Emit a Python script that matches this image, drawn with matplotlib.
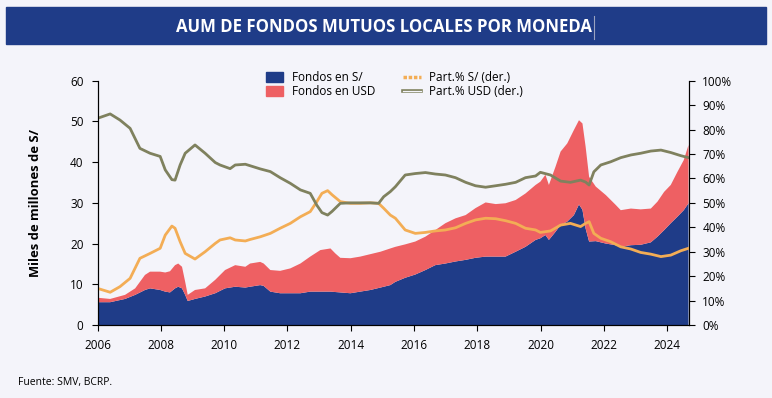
import matplotlib.pyplot as plt
from matplotlib.lines import Line2D
from matplotlib.patches import Patch, Rectangle
from matplotlib.ticker import FuncFormatter

# stacked areas (miles de millones de S/)
area_years = [2006.0, 2006.4, 2006.87, 2007.19, 2007.5, 2007.66, 2007.98, 2008.14, 2008.29, 2008.45,
              2008.55, 2008.67, 2008.77, 2008.85, 2009.08, 2009.4, 2009.72, 2010.03, 2010.35, 2010.67,
              2010.82, 2011.14, 2011.25, 2011.46, 2011.77, 2012.09, 2012.41, 2012.72, 2013.04, 2013.36,
              2013.51, 2013.67, 2013.99, 2014.3, 2014.62, 2014.94, 2015.25, 2015.41, 2015.72, 2016.04,
              2016.36, 2016.67, 2016.99, 2017.31, 2017.63, 2017.94, 2018.26, 2018.58, 2018.89, 2019.21,
              2019.52, 2019.84, 2019.99, 2020.15, 2020.26, 2020.47, 2020.63, 2020.84, 2021.05, 2021.21,
              2021.32, 2021.42, 2021.53, 2021.74, 2022.06, 2022.37, 2022.53, 2022.85, 2023.16, 2023.48,
              2023.69, 2023.9, 2024.11, 2024.32, 2024.52, 2024.67]
fondos_sol = [5.6, 5.6, 6.4, 7.4, 8.6, 9.0, 8.6, 8.2, 8.0, 9.0,
              9.4, 9.0, 7.4, 5.9, 6.4, 7.0, 7.8, 9.0, 9.4, 9.2,
              9.4, 9.8, 9.6, 8.2, 7.8, 7.8, 7.8, 8.2, 8.2, 8.2,
              8.1, 8.0, 7.8, 8.2, 8.6, 9.2, 9.8, 10.6, 11.6, 12.4,
              13.5, 14.7, 15.1, 15.6, 16.0, 16.5, 16.8, 16.8, 16.8, 18.0,
              19.2, 20.9, 21.3, 22.1, 20.9, 22.9, 24.6, 25.4, 27.0, 29.6,
              28.3, 23.7, 20.5, 20.6, 20.0, 19.6, 19.2, 19.6, 19.7, 20.3,
              21.7, 23.3, 25.0, 26.6, 28.2, 29.9]
fondos_usd = [1.1, 0.8, 1.0, 1.6, 3.7, 4.1, 4.5, 4.7, 5.2, 5.7,
              5.7, 5.3, 3.2, 1.5, 2.2, 2.0, 3.3, 4.5, 5.3, 5.1,
              5.7, 5.7, 5.5, 5.3, 5.5, 6.1, 7.3, 8.6, 10.2, 10.6,
              9.5, 8.5, 8.6, 8.6, 8.8, 8.8, 9.0, 8.6, 8.2, 8.1,
              8.2, 8.6, 9.9, 10.6, 11.0, 12.2, 13.3, 12.9, 13.1, 12.7,
              13.1, 13.5, 13.9, 14.8, 13.5, 16.0, 18.0, 19.2, 20.9, 20.7,
              21.2, 20.1, 15.9, 13.4, 11.9, 9.9, 9.0, 9.0, 8.7, 8.3,
              8.6, 9.4, 9.4, 11.0, 12.3, 14.3]

# participaciones (eje derecho, %)
line_years = [2006.0, 2006.4, 2006.71, 2007.03, 2007.34, 2007.66, 2007.98, 2008.14, 2008.35, 2008.45,
              2008.61, 2008.77, 2009.08, 2009.4, 2009.72, 2009.87, 2010.19, 2010.35, 2010.67, 2010.82,
              2011.14, 2011.46, 2011.77, 2012.09, 2012.41, 2012.72, 2012.93, 2013.09, 2013.27, 2013.41,
              2013.67, 2013.99, 2014.3, 2014.62, 2014.88, 2015.04, 2015.25, 2015.41, 2015.72, 2016.04,
              2016.36, 2016.67, 2016.99, 2017.31, 2017.63, 2017.94, 2018.26, 2018.58, 2018.89, 2019.21,
              2019.52, 2019.84, 2019.99, 2020.31, 2020.63, 2020.94, 2021.26, 2021.42, 2021.53, 2021.68,
              2021.9, 2022.21, 2022.53, 2022.85, 2023.16, 2023.48, 2023.8, 2024.11, 2024.43, 2024.67]
part_sol = [15.0, 13.4, 15.7, 19.1, 27.3, 29.3, 31.4, 36.8, 40.5, 39.6,
            34.1, 29.3, 27.0, 30.0, 33.4, 34.8, 35.7, 34.8, 34.4, 35.0,
            36.1, 37.5, 39.6, 41.6, 44.3, 46.4, 50.5, 53.9, 55.0, 53.3,
            50.5, 49.8, 49.8, 50.0, 49.8, 47.8, 45.0, 43.7, 38.9, 37.5,
            37.9, 38.5, 38.9, 39.8, 41.6, 43.0, 43.7, 43.5, 42.7, 41.6,
            39.6, 38.9, 37.9, 38.5, 40.9, 41.6, 40.3, 41.6, 42.3, 37.5,
            35.5, 34.1, 32.0, 31.1, 29.7, 29.0, 28.0, 28.6, 30.4, 31.4]
part_usd = [84.6, 86.4, 83.9, 80.5, 72.3, 70.3, 69.0, 63.5, 59.5, 59.3,
            65.5, 70.3, 73.7, 70.3, 66.5, 65.5, 64.0, 65.5, 65.8, 65.2,
            63.9, 62.8, 60.3, 58.0, 55.3, 53.9, 49.0, 46.0, 45.0, 46.5,
            49.8, 50.0, 50.0, 50.0, 49.8, 52.5, 54.6, 56.6, 61.4, 62.0,
            62.4, 61.8, 61.4, 60.3, 58.4, 57.0, 56.4, 57.0, 57.6, 58.4,
            60.3, 61.0, 62.5, 61.4, 58.9, 58.4, 59.3, 58.5, 57.3, 62.7,
            65.5, 66.8, 68.5, 69.6, 70.3, 71.2, 71.6, 70.6, 69.3, 68.5]

bg = '#f4f4fa'
blue = '#1f3c88'
red = '#ee6063'
orange = '#f3ad55'
olive = '#7f815e'

plt.rcParams['font.family'] = ['Open Sans', 'DejaVu Sans']

fig = plt.figure(figsize=(7.72, 3.98), dpi=100, facecolor=bg)

# title band
fig.patches.append(Rectangle((6 / 772, 1 - 44 / 398), 760 / 772, 37 / 398,
                             transform=fig.transFigure, color=blue, zorder=0))
fig.text(384 / 772, 1 - 26.5 / 398, 'AUM DE FONDOS MUTUOS LOCALES POR MONEDA', color='white',
         fontsize=12.1, fontweight='bold', ha='center', va='center')
fig.lines.append(Line2D([593.5 / 772, 593.5 / 772], [1 - 16 / 398, 1 - 39 / 398],
                        transform=fig.transFigure, color='#9aa3c0', lw=0.8))

ax = fig.add_axes([97.5 / 772, 73 / 398, 591 / 772, 244.3 / 398])
ax.set_facecolor(bg)
ax.stackplot(area_years, fondos_sol, fondos_usd, colors=[blue, red], linewidth=0)
ax.set_xlim(2006, 2024.67)
ax.set_ylim(0, 60)
ax.set_xticks(range(2006, 2025, 2))
ax.set_yticks(range(0, 61, 10))
ax.set_ylabel('Miles de millones de S/', fontsize=9.4, fontweight='bold', labelpad=20)
ax.spines['top'].set_visible(False)
ax.tick_params(labelsize=8.5, length=4, color='black', pad=6)

ax2 = ax.twinx()
ax2.plot(line_years, part_sol, color=orange, lw=2)
ax2.plot(line_years, part_usd, color=olive, lw=2)
ax2.set_ylim(0, 100)
ax2.set_yticks(range(0, 101, 10))
ax2.yaxis.set_major_formatter(FuncFormatter(lambda v, p: '%d%%' % v))
ax2.spines['top'].set_visible(False)
ax2.tick_params(labelsize=8.5, length=4, color='black', pad=6)

handles = [Patch(color=blue), Patch(color=red),
           Line2D([], [], color=orange, lw=2.5, linestyle=(0, (1, 0.5))),
           (Line2D([], [], color=olive, lw=2.6), Line2D([], [], color=bg, lw=0.9))]
labels = ['Fondos en S/', 'Fondos en USD', 'Part.% S/ (der.)', 'Part.% USD (der.)']
fig.legend(handles, labels, ncol=2, loc='upper center', bbox_to_anchor=(0.511, 0.848),
           frameon=False, fontsize=8.5, handlelength=1.5, handleheight=0.9,
           columnspacing=2.4, labelspacing=0.1, handletextpad=0.7)

fig.text(18 / 772, 1 - 383 / 398, 'Fuente: SMV, BCRP.', fontsize=7.5, va='center')

plt.savefig('out.png', dpi=100, facecolor=bg)
